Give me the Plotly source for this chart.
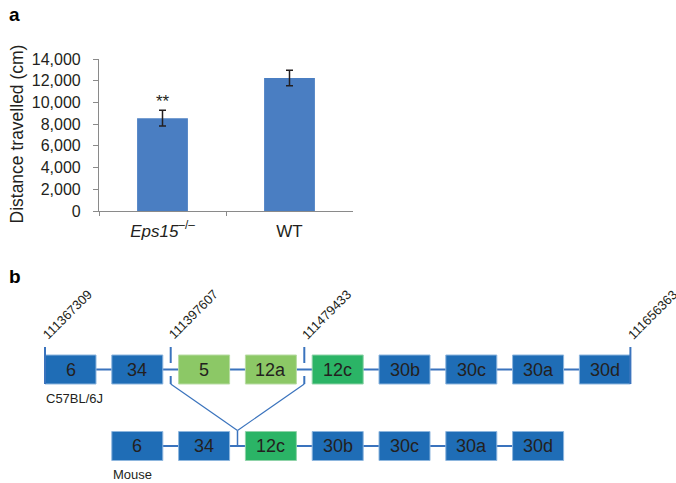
import plotly.graph_objects as go

# ---------------- data ----------------
# Panel a
groups = ["Eps15-/-", "WT"]
group_labels = ["<i>Eps15</i><sup>–/–</sup>", "WT"]
distance_mean = [8550, 12250]
distance_err = [720, 720]
significance = ["**", ""]
y_ticks = [0, 2000, 4000, 6000, 8000, 10000, 12000, 14000]

# Panel b
exons_ref = ["6", "34", "5", "12a", "12c", "30b", "30c", "30a", "30d"]
exons_mouse = ["6", "34", "12c", "30b", "30c", "30a", "30d"]
exon_kind = {"5": "skipped", "12a": "skipped", "12c": "novel"}
coord_labels = ["111367309", "111397607", "111479433", "111656363"]
coord_after_exon = [-1, 1, 3, 8]  # boundary after this exon index (-1 = start)
row_labels = ["C57BL/6J", "Mouse"]

# ---------------- styles ----------------
W, H = 676, 483
FONT = "Liberation Sans, Arial, Helvetica, sans-serif"
TXT = "#231f20"
BAR = "#4a7ec2"
LINE = "#3a73bd"
FILL = {"const": "#1f6db6", "skipped": "#8cc866", "novel": "#2bb466"}
EDGE = {"const": "#8db6de", "skipped": "#b8dca4", "novel": "#8fd3a8"}

STEP = 66.8          # px per exon slot
X0 = 70.5            # px of first slot centre
ROWSP = 76.5         # px between rows
YB = 446             # px of lower row centre
HW = 25.5 / STEP     # box half width (slot units)
HH = 14.5 / ROWSP    # box half height (row units)
MOUSE_OFFSET = 1     # mouse transcript shifted one slot

fig = go.Figure()

# ---------- panel a ----------
fig.add_trace(go.Bar(
    x=groups, y=distance_mean, width=0.4, marker=dict(color=BAR, line=dict(width=0)),
    error_y=dict(type="data", array=distance_err, color=TXT, thickness=1.5, width=3.5),
    xaxis="x", yaxis="y", showlegend=False, hoverinfo="skip"))

for g, m, e, s in zip(groups, distance_mean, distance_err, significance):
    if s:
        fig.add_annotation(x=g, y=m + e, xref="x", yref="y", text=s, showarrow=False,
                           xanchor="center", yanchor="bottom", yshift=-3,
                           font=dict(size=17, color=TXT, family=FONT))

fig.add_annotation(x=16.5 / W, y=1 - 134 / H, xref="paper", yref="paper",
                   text="Distance travelled (cm)", textangle=-90, showarrow=False,
                   xanchor="center", yanchor="middle",
                   font=dict(size=17.5, color=TXT, family=FONT))

fig.add_annotation(x=7 / W, y=1 - 2 / H, xref="paper", yref="paper", text="<b>a</b>",
                   showarrow=False, xanchor="left", yanchor="top",
                   font=dict(size=19, color="#000", family=FONT))
fig.add_annotation(x=7 / W, y=1 - 264 / H, xref="paper", yref="paper", text="<b>b</b>",
                   showarrow=False, xanchor="left", yanchor="top",
                   font=dict(size=19, color="#000", family=FONT))

# ---------- panel b ----------
def kind(ex):
    return exon_kind.get(ex, "const")

def add_row(exons, row_y, offset):
    xs = [i + offset for i in range(len(exons))]
    # connector line
    fig.add_shape(type="line", xref="x2", yref="y2", x0=xs[0], x1=xs[-1], y0=row_y, y1=row_y,
                  line=dict(color=LINE, width=2), layer="below")
    for x, ex in zip(xs, exons):
        k = kind(ex)
        fig.add_shape(type="rect", xref="x2", yref="y2", x0=x - HW, x1=x + HW,
                      y0=row_y - HH, y1=row_y + HH, fillcolor=FILL[k],
                      line=dict(color=EDGE[k], width=1), layer="below")
        fig.add_annotation(x=x, y=row_y, xref="x2", yref="y2", text=ex, showarrow=False,
                           xanchor="center", yanchor="middle",
                           font=dict(size=18, color=TXT, family=FONT))

TOP, BOT = 1, 0
add_row(exons_ref, TOP, 0)
add_row(exons_mouse, BOT, MOUSE_OFFSET)

# row labels
for lab, ry, off in zip(row_labels, [TOP, BOT], [0, MOUSE_OFFSET]):
    fig.add_annotation(x=off - HW, y=ry - 28.5 / ROWSP, xref="x2", yref="y2", text=lab,
                       showarrow=False, xanchor="left", yanchor="middle", xshift=-1,
                       font=dict(size=13, color=TXT, family=FONT))

# genomic coordinate markers
mtop = TOP + HH + 8 / ROWSP
gap = 6.5 / ROWSP
n = len(exons_ref)
mid_x = []
for lab, b in zip(coord_labels, coord_after_exon):
    if b < 0:
        bx = 0 - HW
        segs = [(mtop, TOP - HH)]
    elif b >= n - 1:
        bx = (n - 1) + HW
        segs = [(mtop, TOP - HH)]
    else:
        bx = b + 0.5
        segs = [(mtop, TOP + gap), (TOP - gap, TOP - HH)]
        mid_x.append(bx)
    for y0, y1 in segs:
        fig.add_shape(type="line", xref="x2", yref="y2", x0=bx, x1=bx, y0=y0, y1=y1,
                      line=dict(color=LINE, width=2), layer="below")
    fig.add_annotation(x=bx, y=mtop, xref="x2", yref="y2", text=lab, textangle=-45,
                       showarrow=False, xanchor="left", yanchor="bottom", xshift=-8, yshift=2,
                       font=dict(size=13, color=TXT, family=FONT))

# splice junction (skipped exons): joins mouse exons "34" and "12c"
jx = exons_mouse.index("34") + MOUSE_OFFSET + 0.5
jy = BOT + HH + 1.0 / ROWSP
for mx in mid_x:
    fig.add_shape(type="line", xref="x2", yref="y2", x0=mx, x1=jx, y0=TOP - HH, y1=jy,
                  line=dict(color=LINE, width=1.2), layer="below")
fig.add_shape(type="line", xref="x2", yref="y2", x0=jx, x1=jx, y0=jy, y1=BOT,
              line=dict(color=LINE, width=1.5), layer="below")

# ---------- layout ----------
fig.update_layout(
    width=W, height=H, margin=dict(l=0, r=0, t=0, b=0, autoexpand=False),
    paper_bgcolor="white", plot_bgcolor="rgba(0,0,0,0)",
    font=dict(family=FONT, color=TXT),
    bargap=0.6,
    xaxis=dict(domain=[99 / W, 353 / W], type="category", tickmode="array",
               tickvals=groups, ticktext=group_labels, tickson="boundaries",
               ticks="outside", ticklen=4, tickcolor="#8a8a8a", showline=True,
               linecolor="#8a8a8a", linewidth=1.2, showgrid=False, zeroline=False,
               tickfont=dict(size=17, color=TXT, family=FONT), ticklabelstandoff=4,
               anchor="y", fixedrange=True, automargin=False),
    yaxis=dict(domain=[1 - 211 / H, 1 - 59 / H], range=[0, 14000], tickmode="array",
               tickvals=y_ticks, tickformat=",d", ticks="outside", ticklen=5,
               tickcolor="#8a8a8a", showline=True, linecolor="#8a8a8a", linewidth=1.2,
               showgrid=False, zeroline=False, tickfont=dict(size=16, color=TXT, family=FONT),
               ticklabelstandoff=9, anchor="x", fixedrange=True, automargin=False),
    xaxis2=dict(domain=[0, 1], range=[-X0 / STEP, (W - X0) / STEP], visible=False,
                anchor="y2", fixedrange=True, automargin=False),
    yaxis2=dict(domain=[0, 1], range=[(YB - H) / ROWSP, YB / ROWSP], visible=False,
                anchor="x2", fixedrange=True, automargin=False),
)

fig.write_html("out.html", config={"displayModeBar": False},
               post_script="document.body.style.margin='0';document.body.style.overflow='hidden';")
